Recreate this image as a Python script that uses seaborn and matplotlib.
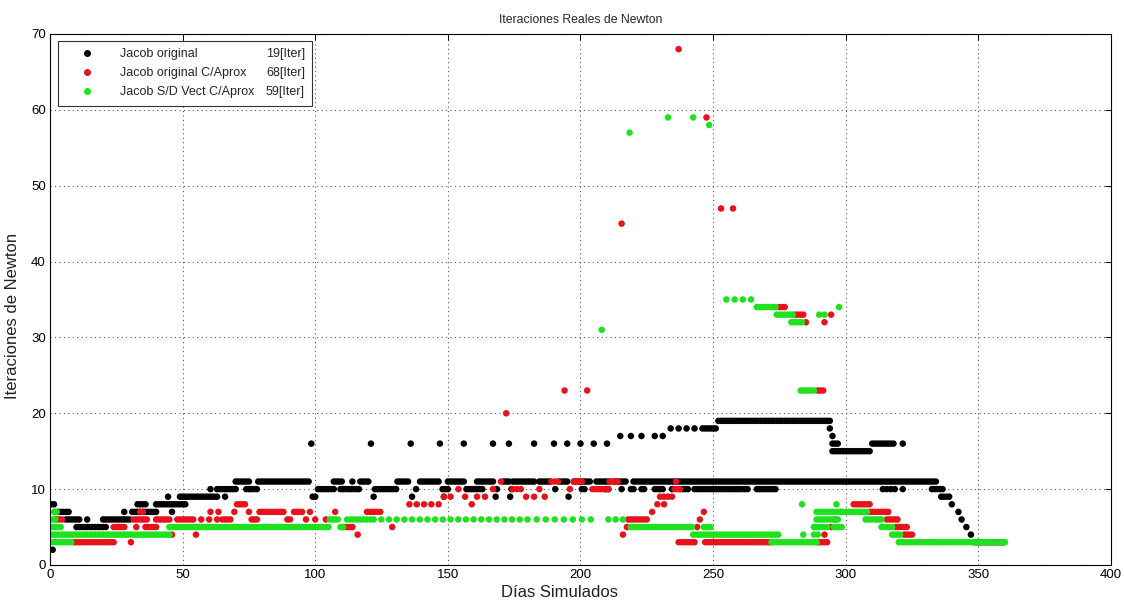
import numpy as np
import pandas as pd
import matplotlib
matplotlib.use('Agg')
import matplotlib.pyplot as plt
import seaborn as sns
from matplotlib.lines import Line2D

# Runs of points: (first day, last day, iterations, spacing in days)
black_runs = [
    (1, 1, 2, 1), (0.5, 2, 8, 1), (2, 7, 7, 1), (6, 11.5, 6, 1), (14, 14, 6, 1),
    (10, 21.5, 5, 1), (20, 30, 6, 1), (28, 28, 7, 1), (31, 40, 7, 1), (33, 36, 8, 1),
    (40, 51, 8, 1), (46, 46, 7, 1), (44.5, 44.5, 9, 1), (49, 63, 9, 1), (66, 66, 9, 1),
    (60.5, 60.5, 10, 1), (63, 70.5, 10, 1), (70, 75, 11, 1), (74, 78.5, 10, 1),
    (78.5, 98, 11, 1), (98.5, 98.5, 16, 1), (99, 100.5, 9, 1), (101, 107, 10, 1),
    (107, 110, 11, 1), (114, 114, 11, 1), (117, 120.5, 11, 1), (109.5, 117, 10, 1),
    (121, 121, 16, 1), (122, 122, 9, 1), (122.5, 131, 10, 1), (131, 135.5, 11, 1),
    (136, 136, 16, 1), (136.5, 136.5, 9, 1), (138, 138, 10, 1), (139.5, 146.5, 11, 1),
    (147, 147, 16, 1), (148.5, 148.5, 9, 1), (148, 150, 10, 1), (150, 156, 11, 1),
    (156, 156, 16, 1), (157, 163.5, 10, 1), (161, 167, 11, 1), (167, 167, 16, 1),
    (168, 168, 9, 1), (168.5, 168.5, 10, 1), (171, 173, 11, 1), (173, 173, 16, 1),
    (173.5, 173.5, 9, 1), (174, 174, 10, 1), (174.5, 182.5, 11, 1), (182.5, 182.5, 16, 1),
    (184.5, 189, 11, 1), (190, 190, 16, 1), (190.5, 190.5, 10, 1), (192, 195, 11, 1),
    (195, 195, 16, 1), (195.5, 195.5, 9, 1), (197.5, 204, 11, 1), (200, 200, 16, 1),
    (200.5, 202, 10, 1), (205, 205, 16, 1), (206, 211, 11, 1), (209.5, 211, 10, 1),
    (210, 210, 16, 1), (213, 217.5, 11, 1), (215, 215, 17, 1), (215.5, 215.5, 10, 1),
    (219, 219, 17, 1), (219, 220.5, 10, 1), (220, 334, 11, 1), (223, 224, 10, 1),
    (223, 223, 17, 1), (228, 228, 17, 1), (231, 231, 17, 1), (228, 231, 10, 1),
    (234.5, 234.5, 10, 1), (237.5, 240.5, 10, 1), (243, 263, 10, 1), (266.5, 273.5, 10, 1),
    (234, 234, 18, 1), (237, 237, 18, 1), (240, 240, 18, 1), (243, 243, 18, 1),
    (246, 251, 18, 1), (252, 294.5, 19, 1), (294, 294, 18, 1), (295, 295, 17, 1),
    (295, 297.5, 16, 1), (295, 309.5, 15, 1), (310, 318.5, 16, 1), (321.5, 321.5, 16, 1),
    (314, 318.5, 10, 1.5), (321.5, 321.5, 10, 1), (332.5, 337, 10, 1), (336, 339.5, 9, 1),
    (340, 340, 8, 1), (342.5, 342.5, 7, 1), (343.7, 343.7, 6, 1), (345.5, 345.5, 5, 1),
    (347.2, 347.2, 4, 1), (348.5, 360, 3, 1),
]

red_runs = [
    (2.5, 5, 6, 1), (9, 24.5, 3, 1), (30.5, 30.5, 3, 1), (24, 28.5, 5, 1), (32.5, 32.5, 5, 1),
    (36, 40, 5, 1), (31.5, 36.5, 6, 1), (34, 35, 7, 1), (40, 45.5, 6, 1), (46, 46, 4, 1),
    (48, 54, 6, 1), (55, 55, 4, 1), (57, 57, 6, 1), (60, 60, 6, 1), (63, 63, 6, 1),
    (65, 68.5, 6, 1), (60.5, 60.5, 7, 1), (63.5, 63.5, 7, 1), (69.5, 69.5, 7, 1),
    (70.5, 74, 8, 1), (75, 75, 7, 1), (76, 78.5, 6, 1), (79, 88.5, 7, 1), (89.5, 91, 6, 1),
    (92, 95, 7, 1), (96.5, 96.5, 6, 1), (98, 98, 7, 1), (100, 100, 6, 1), (104, 104, 6, 1),
    (107.5, 107.5, 7, 1), (110, 114, 5, 1), (116, 116, 4, 1), (119.5, 124.5, 7, 1),
    (129, 129, 5, 1), (135.5, 146.5, 8, 2.75), (148.5, 151, 9, 2.5), (154, 154, 10, 1),
    (156.5, 156.5, 9, 1), (159, 159, 8, 1), (161, 164, 9, 3), (167, 167, 10, 1),
    (170, 170, 11, 1), (172, 172, 20, 1), (174.5, 177.5, 10, 1.5), (179.5, 182.5, 9, 3),
    (184.5, 184.5, 10, 1), (186.5, 186.5, 9, 1), (189, 191.5, 11, 1.25), (194, 194, 23, 1),
    (196, 196, 10, 1), (197.5, 201, 11, 1), (202.5, 202.5, 23, 1), (204.5, 210.5, 10, 1),
    (211, 214.5, 11, 1), (216, 216, 4, 1), (217.5, 217.5, 5, 1), (215.5, 215.5, 45, 1),
    (218, 225.5, 6, 1), (227, 227, 7, 1), (229, 231.5, 8, 2.5), (230, 234.5, 9, 1.5),
    (235.5, 238, 10, 1), (236, 236, 11, 1), (237, 237, 68, 1), (237, 243.5, 3, 1),
    (244, 244, 5, 1), (245, 245, 6, 1), (246.5, 246.5, 7, 1), (247, 272, 3, 1),
    (247.5, 247.5, 59, 1), (253, 253, 47, 1), (257.5, 257.5, 47, 1), (275, 277, 34, 1),
    (281, 284, 33, 1), (285, 285, 32, 1), (289.5, 291.5, 23, 1), (289, 293.5, 3, 1),
    (292, 292, 4, 1), (292, 292, 32, 1), (294.5, 294.5, 33, 1), (294.5, 294.5, 5, 1),
    (296, 296, 6, 1), (298, 298, 7, 1), (303, 309, 8, 1), (309, 316, 7, 1),
    (315.5, 320, 6, 1), (319, 323, 5, 1), (322, 325.5, 4, 1),
]

green_runs = [
    (1.5, 2.5, 7, 1), (1, 2.5, 6, 1), (1, 4.5, 5, 1), (1, 45, 4, 1), (1, 8, 3, 1),
    (45, 105, 5, 1), (105.5, 109, 6, 1), (109.5, 111, 5, 1), (112, 121, 6, 1.25),
    (122, 180, 6, 2.9), (183.5, 204.5, 6, 3.4), (210.5, 216, 6, 2.75), (208, 208, 31, 1),
    (218.5, 218.5, 57, 1), (219, 242.5, 5, 1), (233, 233, 59, 1),
    (242.5, 242.5, 59, 1), (242.5, 274.5, 4, 1), (246.5, 249, 5, 1.25),
    (248.5, 248.5, 58, 1), (255, 264.5, 35, 3.1), (266.5, 274, 34, 1), (274, 280.5, 33, 1),
    (279.5, 283.5, 32, 1), (283, 288.5, 23, 1), (272, 289, 3, 1), (283.5, 283.5, 8, 1),
    (296.5, 296.5, 8, 1), (284, 284, 4, 1), (288, 289.5, 4, 1.5), (288, 293, 5, 1),
    (295.5, 299, 5, 1), (289, 297.5, 6, 1), (289, 308.5, 7, 1), (290, 290, 33, 1),
    (292, 292, 33, 1), (297.5, 297.5, 34, 1), (307.5, 313.5, 6, 1), (313.5, 317.5, 5, 1),
    (317.5, 320.5, 4, 1), (320, 360, 3, 1),
]

series_names = ['Jacob original', 'Jacob original C/Aprox', 'Jacob S/D Vect C/Aprox']
series_iter = ['19[Iter]', '68[Iter]', '59[Iter]']
series_colors = ['#000000', '#e8121c', '#1fe21f']


def expand(runs, name):
    rows = []
    for x0, x1, y, step in runs:
        for x in np.arange(x0, x1 + 1e-9, step):
            rows.append((x, y, name))
    return rows


rows = (expand(black_runs, series_names[0]) + expand(red_runs, series_names[1])
        + expand(green_runs, series_names[2]))
df = pd.DataFrame(rows, columns=['dia', 'iter', 'serie'])

sns.set_style('white')
plt.rcParams['font.family'] = ['Liberation Sans', 'DejaVu Sans']

fig, ax = plt.subplots(figsize=(11.24, 6.06), dpi=100)
fig.subplots_adjust(left=0.0445, right=0.9884, top=0.9439, bottom=0.0677)

sns.scatterplot(data=df, x='dia', y='iter', hue='serie', palette=dict(zip(series_names, series_colors)),
                s=22, linewidth=0, marker='o', legend=False, ax=ax)

ax.set_xlim(0, 400)
ax.set_ylim(0, 70)
ax.set_xticks(range(0, 401, 50))
ax.set_yticks(range(0, 71, 10))
ax.grid(True, color='#555555', linestyle=(0, (1, 3)), linewidth=0.8)
ax.tick_params(direction='in', top=True, right=True, length=4, width=0.7, labelsize=9.5,
               colors='black', pad=3)
for sp in ax.spines.values():
    sp.set_color('black')
    sp.set_linewidth(0.8)

ax.set_title('Iteraciones Reales de Newton', fontsize=8.8, pad=8)
ax.set_xlabel('Días Simulados', fontsize=12, color='#222222')
ax.set_ylabel('Iteraciones de Newton', fontsize=12, color='#222222')
ax.xaxis.set_label_coords(0.48, -0.038)
ax.yaxis.set_label_coords(-0.028, 0.469)

handles = [Line2D([], [], marker='o', ls='', color=c, markersize=4) for c in series_colors]
leg = ax.legend(handles, series_names, loc='upper left', bbox_to_anchor=(0.0075, 0.874, 0.2395, 0.113),
                mode='expand', fontsize=9, frameon=True, fancybox=False, edgecolor='black',
                handlelength=3.4, handletextpad=1.0, labelspacing=0.55, borderaxespad=0, borderpad=0.6)
leg.get_frame().set_linewidth(0.8)

fig.canvas.draw()
inv = fig.transFigure.inverted()
for txt, it in zip(leg.get_texts(), series_iter):
    bb = txt.get_window_extent()
    yc = inv.transform((0, (bb.y0 + bb.y1) / 2))[1]
    fig.text(305 / 1124, yc, it, ha='right', va='center', fontsize=9)

fig.savefig('out.png', dpi=100)
